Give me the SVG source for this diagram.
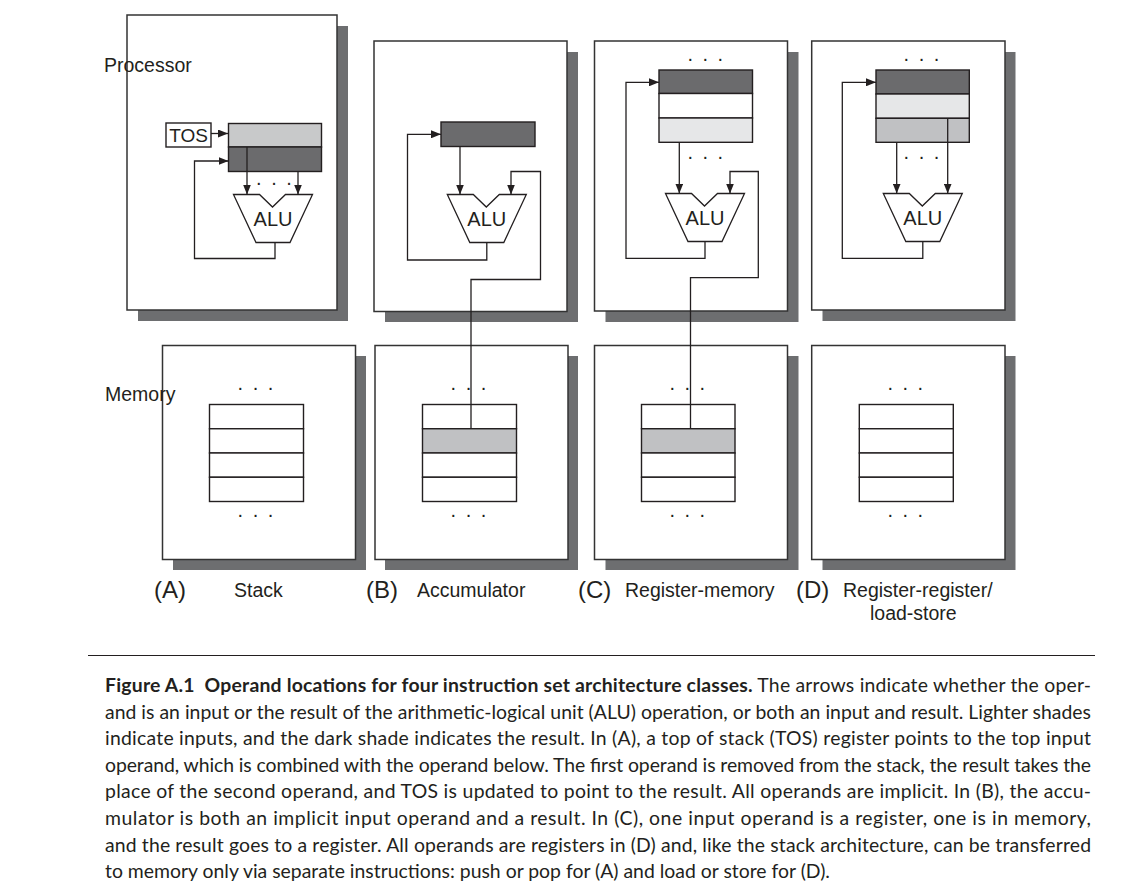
<svg xmlns="http://www.w3.org/2000/svg" width="1142" height="895" viewBox="0 0 1142 895">
<defs>
<marker id="ah" viewBox="0 0 10 8" refX="10" refY="4" markerWidth="10" markerHeight="8" markerUnits="userSpaceOnUse" orient="auto">
<path d="M0,0 L10,4 L0,8 Z" fill="#231f20"/>
</marker>
<path id="alu" d="M0,0 H26 L39,12.5 L52,0 H79 L56.5,48 H22.5 Z"/>
</defs>
<style>
.shadow{fill:#6d6e70}
.box{fill:#fff;stroke:#333;stroke-width:1.5}
.cell{stroke:#231f20;stroke-width:1.4}
.w{fill:#fff}
.dk{fill:#6b6b6d}
.lt{fill:#c8c9ca}
.xl{fill:#e6e7e8}
.md{fill:#c0c1c3}
.ln{fill:none;stroke:#231f20;stroke-width:1.3}
.ar{fill:none;stroke:#231f20;stroke-width:1.3;marker-end:url(#ah)}
.alu{fill:#fff;stroke:#231f20;stroke-width:1.3}
.t{font-family:"Liberation Sans",Arial,sans-serif;fill:#231f20}
.lbl{font-size:19.5px}
.alut{font-size:20px}
.big{font-size:24px}
.dots{font-family:"Liberation Sans",Arial,sans-serif;font-size:20px;fill:#231f20;text-anchor:middle;letter-spacing:2px}
.cap{font-family:Lato,"Open Sans",sans-serif;font-size:19.4px;fill:#231f20}
.b{font-weight:bold}
</style>
<rect width="1142" height="895" fill="#fff"/>

<!-- Panel A -->
<g id="procA">
<rect class="shadow" x="138" y="26" width="210" height="295"/>
<rect class="box" x="127" y="15" width="210" height="295"/>
<text class="t lbl" x="104" y="72">Processor</text>
</g>
<g id="tosA">
<rect class="cell w" x="166" y="123" width="45" height="24"/>
<text class="t" x="188.5" y="142" font-size="19" text-anchor="middle">TOS</text>
</g>
<g id="regA">
<rect class="cell lt" x="228.5" y="123.5" width="93" height="23.5"/>
<rect class="cell dk" x="228.5" y="147" width="93" height="24.5"/>
<text class="dots" x="275" y="185">. . .</text>
</g>
<g id="aluA">
<use href="#alu" class="alu" x="233.5" y="194.5"/>
<text class="t alut" x="273" y="226" text-anchor="middle">ALU</text>
</g>
<g id="memA">
<rect class="shadow" x="173" y="356" width="193" height="214"/>
<rect class="box" x="162.5" y="345.5" width="193" height="214"/>
<text class="t lbl" x="105" y="401">Memory</text>
<text class="dots" x="256.5" y="390">. . .</text>
<rect class="cell w" x="209.5" y="404.5" width="94" height="24.25"/>
<rect class="cell w" x="209.5" y="428.75" width="94" height="24.25"/>
<rect class="cell w" x="209.5" y="453" width="94" height="24.25"/>
<rect class="cell w" x="209.5" y="477.25" width="94" height="24.25"/>
<text class="dots" x="256.5" y="517">. . .</text>
</g>

<!-- Panel B -->
<g id="procB">
<rect class="shadow" x="385" y="52" width="193" height="270"/>
<rect class="box" x="374" y="41" width="193" height="270.5"/>
</g>
<g id="regB">
<rect class="cell dk" x="441" y="122" width="94" height="24.5"/>
</g>
<g id="aluB">
<use href="#alu" class="alu" x="447.3" y="194.5"/>
<text class="t alut" x="486.8" y="226" text-anchor="middle">ALU</text>
</g>
<g id="memB">
<rect class="shadow" x="385" y="356" width="193" height="214"/>
<rect class="box" x="375" y="345.5" width="193" height="214"/>
<text class="dots" x="469.5" y="390">. . .</text>
<rect class="cell w" x="422.5" y="404.5" width="94" height="24.25"/>
<rect class="cell md" x="422.5" y="428.75" width="94" height="24.25"/>
<rect class="cell w" x="422.5" y="453" width="94" height="24.25"/>
<rect class="cell w" x="422.5" y="477.25" width="94" height="24.25"/>
<text class="dots" x="469.5" y="517">. . .</text>
</g>

<!-- Panel C -->
<g id="procC">
<rect class="shadow" x="605.5" y="52" width="193" height="270"/>
<rect class="box" x="594.5" y="41" width="193" height="270"/>
</g>
<g id="regC">
<text class="dots" x="706.3" y="61">. . .</text>
<rect class="cell dk" x="659" y="70" width="93.5" height="23.5"/>
<rect class="cell w" x="659" y="93.5" width="93.5" height="24.5"/>
<rect class="cell xl" x="659" y="118" width="93.5" height="24.3"/>
<text class="dots" x="706.3" y="159">. . .</text>
</g>
<g id="aluC">
<use href="#alu" class="alu" x="665.5" y="193.5"/>
<text class="t alut" x="705" y="225" text-anchor="middle">ALU</text>
</g>
<g id="memC">
<rect class="shadow" x="605.5" y="356" width="193" height="214"/>
<rect class="box" x="594.5" y="345.5" width="193" height="214"/>
<text class="dots" x="688.3" y="390">. . .</text>
<rect class="cell w" x="641.5" y="404.5" width="93.5" height="24.25"/>
<rect class="cell md" x="641.5" y="428.75" width="93.5" height="24.25"/>
<rect class="cell w" x="641.5" y="453" width="93.5" height="24.25"/>
<rect class="cell w" x="641.5" y="477.25" width="93.5" height="24.25"/>
<text class="dots" x="688.3" y="517">. . .</text>
</g>

<!-- Panel D -->
<g id="procD">
<rect class="shadow" x="822.5" y="52" width="193" height="269"/>
<rect class="box" x="811.7" y="41" width="193.3" height="269"/>
</g>
<g id="regD">
<text class="dots" x="922.5" y="61">. . .</text>
<rect class="cell dk" x="876" y="70" width="93.3" height="24"/>
<rect class="cell xl" x="876" y="94" width="93.3" height="24.3"/>
<rect class="cell md" x="876" y="118.3" width="93.3" height="24"/>
<text class="dots" x="922.5" y="159">. . .</text>
</g>
<g id="aluD">
<use href="#alu" class="alu" x="883.3" y="193.5"/>
<text class="t alut" x="922.8" y="225" text-anchor="middle">ALU</text>
</g>
<g id="memD">
<rect class="shadow" x="822.5" y="356" width="193" height="214"/>
<rect class="box" x="811.7" y="345.5" width="193.3" height="214"/>
<text class="dots" x="906.3" y="390">. . .</text>
<rect class="cell w" x="859.3" y="404.5" width="94" height="24.25"/>
<rect class="cell w" x="859.3" y="428.75" width="94" height="24.25"/>
<rect class="cell w" x="859.3" y="453" width="94" height="24.25"/>
<rect class="cell w" x="859.3" y="477.25" width="94" height="24.25"/>
<text class="dots" x="906.3" y="517">. . .</text>
</g>

<!-- Connectors -->
<g id="connectors">
<path class="ar" d="M211,133.5 H228"/>
<path class="ar" d="M247,147 V194.5"/>
<path class="ar" d="M298,171.5 V194.5"/>
<path class="ar" d="M275,242.5 V258.5 H194.5 V161 H228.5"/>

<path class="ar" d="M460,146.5 V194.5"/>
<path class="ar" d="M471,428.75 V279.5 H540.5 V171.5 H511 V194.5"/>
<path class="ar" d="M486.8,242.5 V260 H407.5 V134.3 H441"/>

<path class="ar" d="M679.3,142.3 V193.5"/>
<path class="ar" d="M690.5,428.75 V277.7 H758.3 V171.5 H730 V193.5"/>
<path class="ar" d="M705,241.5 V258.3 H626 V82.3 H659"/>

<path class="ar" d="M896.7,142.3 V193.5"/>
<path class="ar" d="M947.7,118.3 V193.5"/>
<path class="ar" d="M922.8,241.5 V258.3 H842.3 V82.3 H876"/>
</g>

<!-- Labels -->
<g id="labels">
<text class="t big" x="154" y="598">(A)</text>
<text class="t lbl" x="234" y="597">Stack</text>
<text class="t big" x="366" y="598">(B)</text>
<text class="t lbl" x="417" y="597">Accumulator</text>
<text class="t big" x="578" y="598">(C)</text>
<text class="t lbl" x="625" y="597">Register-memory</text>
<text class="t big" x="796" y="598">(D)</text>
<text class="t lbl" x="843" y="597">Register-register/</text>
<text class="t lbl" x="870" y="620">load-store</text>
</g>

<!-- Caption -->
<g id="caption">
<line x1="88" y1="655.5" x2="1095" y2="655.5" stroke="#231f20" stroke-width="1.2"/>
<text class="cap" x="105" y="692" textLength="986" lengthAdjust="spacing"><tspan class="b">Figure A.1&#160; Operand locations for four instruction set architecture classes.</tspan> The arrows indicate whether the oper-</text>
<text class="cap" x="105" y="718.6" textLength="986" lengthAdjust="spacing">and is an input or the result of the arithmetic-logical unit (ALU) operation, or both an input and result. Lighter shades</text>
<text class="cap" x="105" y="745.2" textLength="986" lengthAdjust="spacing">indicate inputs, and the dark shade indicates the result. In (A), a top of stack (TOS) register points to the top input</text>
<text class="cap" x="105" y="771.8" textLength="986" lengthAdjust="spacing">operand, which is combined with the operand below. The first operand is removed from the stack, the result takes the</text>
<text class="cap" x="105" y="798.4" textLength="986" lengthAdjust="spacing">place of the second operand, and TOS is updated to point to the result. All operands are implicit. In (B), the accu-</text>
<text class="cap" x="105" y="825" textLength="986" lengthAdjust="spacing">mulator is both an implicit input operand and a result. In (C), one input operand is a register, one is in memory,</text>
<text class="cap" x="105" y="851.6" textLength="986" lengthAdjust="spacing">and the result goes to a register. All operands are registers in (D) and, like the stack architecture, can be transferred</text>
<text class="cap" x="105" y="878.2">to memory only via separate instructions: push or pop for (A) and load or store for (D).</text>
</g>
</svg>
